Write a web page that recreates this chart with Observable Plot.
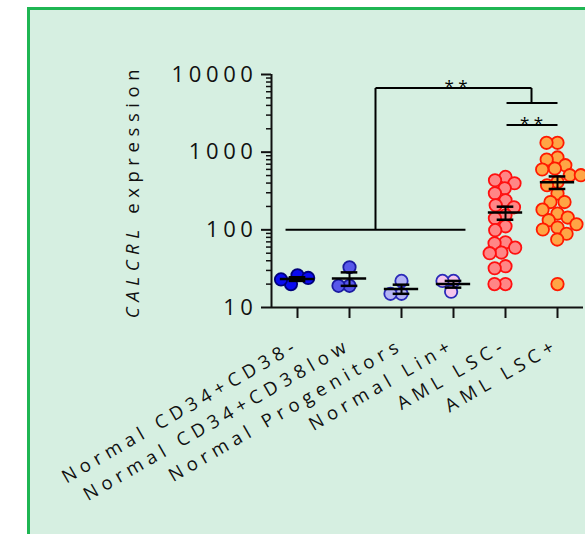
<!DOCTYPE html>
<html>
<head>
<meta charset="utf-8">
<script src="https://cdn.jsdelivr.net/npm/d3@7"></script>
<script src="https://cdn.jsdelivr.net/npm/@observablehq/plot@0.6"></script>
<style>
  html, body { margin: 0; padding: 0; background: #ffffff; }
  #wrap { position: relative; width: 585px; height: 534px; overflow: hidden; }
  #panel { position: absolute; left: 27px; top: 7px; width: 620px; height: 600px; box-sizing: border-box; border: 3px solid #1fb653; background: #d6efe1; }
  #chart { position: absolute; left: 0; top: 0; }
  #chart svg { font-family: "Open Sans", sans-serif; }
  #chart g[aria-label="y-axis tick label"] text { letter-spacing: 4.6px; }
  #chart g[aria-label="fx-axis tick label"] text { letter-spacing: 5.4px; }
  #chart g[aria-label="y-axis label"] text { letter-spacing: 5.6px; font-size: 18.5px; }
</style>
</head>
<body>
<div id="wrap"><div id="panel"></div><div id="chart"></div></div>
<script>
// ---- data ----
const categories = ["Normal CD34+CD38-", "Normal CD34+CD38low", "Normal Progenitors", "Normal Lin+", "AML LSC-", "AML LSC+"];
const normalCD34CD38neg = [26, 20, 24, 23];
const normalCD34CD38low = [33, 19, 19];
const normalProgenitors = [22, 15, 15];
const normalLinPos = [22, 22, 16];
const amlLscNeg = [480, 435, 398, 343, 296, 240, 207, 195, 154, 141, 111, 99, 69, 67, 59, 51, 50, 34, 32, 20, 20];
const amlLscPos = [1320, 1320, 855, 805, 680, 616, 598, 505, 505, 414, 375, 293, 228, 228, 182, 162, 144, 133, 118, 107, 101, 89, 75, 20];
const yTicks = [10, 100, 1000, 10000];
const yLabel = "CALCRL expression";
// significance annotations (x in category-index units, y in expression units)
const bracketLines = [
  {x1: -0.23, x2: 3.23, y1: 100, y2: 100},
  {x1: 1.5, x2: 1.5, y1: 100, y2: 6700},
  {x1: 1.5, x2: 4.5, y1: 6700, y2: 6700},
  {x1: 4.5, x2: 4.5, y1: 6700, y2: 4300},
  {x1: 4.02, x2: 5.0, y1: 4300, y2: 4300},
  {x1: 4.02, x2: 5.0, y1: 2230, y2: 2230}
];
const stars = [{x: 3.05, y: 6700, text: "* *"}, {x: 4.5, y: 2230, text: "* *"}];

// ---- styles ----
const fillColors = ["#0b0bf0", "#5858ea", "#b4b4f4", "#f6c6ec", "#ff8686", "#ffa545"];
const strokeColors = ["#00007a", "#1a1aa0", "#2a2ab8", "#2a2ab8", "#ff1010", "#ff1a00"];

const series = [normalCD34CD38neg, normalCD34CD38low, normalProgenitors, normalLinPos, amlLscNeg, amlLscPos];
const points = categories.flatMap((cat, i) => series[i].map(value => ({cat, value})));
const stats = categories.map((cat, i) => {
  const v = series[i];
  const m = d3.mean(v);
  const se = d3.deviation(v) / Math.sqrt(v.length);
  return {cat, mean: m, lo: m - se, hi: m + se};
});
const first = categories[0];
const minorTicks = [10, 100, 1000].flatMap(p => d3.range(2, 10).map(k => k * p));

const chart = Plot.plot({
  width: 585,
  height: 534,
  marginLeft: 271,
  marginRight: 2,
  marginTop: 74,
  marginBottom: 227,
  style: {background: "transparent", fontFamily: "'Open Sans', sans-serif", overflow: "visible", color: "#111"},
  fx: {domain: categories, padding: 0, round: false, label: null},
  x: {domain: [-0.5, 0.5], axis: null},
  y: {type: "log", domain: [10, 10000]},
  color: {domain: categories, range: fillColors},
  marks: [
    Plot.axisY({ticks: minorTicks, tickSize: 5, tickFormat: () => "", strokeWidth: 1.5, label: null}),
    Plot.axisY({ticks: yTicks, tickSize: 10, tickPadding: 4, fontSize: 22, tickFormat: d => String(d), strokeWidth: 2,
      label: yLabel, labelAnchor: "center", labelOffset: 146, labelArrow: "none"}),
    Plot.axisFx({anchor: "bottom", tickSize: 11, tickPadding: 25, tickRotate: -30, fontSize: 18.5, label: null, strokeWidth: 2}),
    Plot.ruleY([10], {strokeWidth: 2}),
    Plot.ruleX([{cat: first}], {fx: "cat", x: -0.5, y1: 10, y2: 10000, strokeWidth: 2}),
    Plot.link(bracketLines, {fx: () => first, x1: "x1", x2: "x2", y1: "y1", y2: "y2", stroke: "#000", strokeWidth: 2}),
    Plot.text(stars, {fx: () => first, x: "x", y: "y", text: "text", fontSize: 17, lineAnchor: "bottom", dy: 4, fill: "#000"}),
    Plot.dot(points, {
      ...Plot.dodgeX("middle", {fx: "cat", y: "value", r: 5, padding: 0, fill: "cat",
        stroke: d => strokeColors[categories.indexOf(d.cat)], strokeWidth: 1.8}),
      r: 6.2
    }),
    Plot.ruleY(stats, {fx: "cat", y: "mean", x1: -0.33, x2: 0.33, stroke: "#000", strokeWidth: 2.5}),
    Plot.ruleX(stats, {fx: "cat", x: 0, y1: "lo", y2: "hi", stroke: "#000", strokeWidth: 2}),
    Plot.ruleY(stats, {fx: "cat", y: "lo", x1: -0.16, x2: 0.16, stroke: "#000", strokeWidth: 2.5}),
    Plot.ruleY(stats, {fx: "cat", y: "hi", x1: -0.16, x2: 0.16, stroke: "#000", strokeWidth: 2.5})
  ]
});
document.getElementById("chart").appendChild(chart);

// italicise the gene name in the y-axis label
const lab = chart.querySelector('g[aria-label="y-axis label"] text');
if (lab) {
  lab.textContent = "";
  const ns = "http://www.w3.org/2000/svg";
  const t1 = document.createElementNS(ns, "tspan");
  t1.setAttribute("font-style", "italic");
  t1.textContent = "CALCRL";
  const t2 = document.createElementNS(ns, "tspan");
  t2.textContent = " expression";
  lab.appendChild(t1);
  lab.appendChild(t2);
}
</script>
</body>
</html>
